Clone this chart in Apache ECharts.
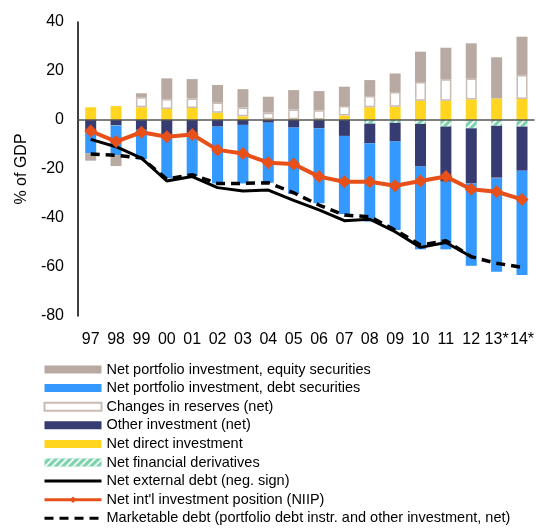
<!DOCTYPE html>
<html>
<head>
<meta charset="utf-8">
<script src="https://cdn.jsdelivr.net/npm/echarts@6/dist/echarts.min.js"></script>
<style>
  html, body { margin: 0; padding: 0; background: #fff; }
  #chart { width: 537px; height: 528px; }
</style>
</head>
<body>
<div id="chart"></div>
<script>
// 数据
const years = ['97', '98', '99', '00', '01', '02', '03', '04', '05', '06', '07', '08', '09', '10', '11', '12', '13*', '14*']

const equity      = [-3, -4.5, 1.6, 8.4, 7.9, 7.2, 7.5, 6.5, 7.9, 7.8, 7.9, 6.5, 7.6, 12.4, 12.9, 14.4, 16.8, 15.6]
const debtSec     = [-9.1, -12, -12, -17.7, -16.1, -23.2, -23.9, -24.5, -27.1, -30.6, -31.9, -32, -36.1, -33.8, -27.6, -33.6, -38.1, -42.6]
const reserves    = [0, 0, 4.1, 4.1, 3.9, 4.1, 3.6, 2.7, 4, 3.8, 3.9, 4.6, 6, 7.6, 8.7, 8.5, 0, 9.8]
const otherInv    = [-4.5, -2.3, -4, -6.1, -6.8, -2.7, -2, -1.1, -3.1, -3.4, -6.5, -8, -7.6, -17.4, -22.5, -22.5, -21.4, -18]
const directInv   = [5.2, 5.7, 5.2, 4.5, 4.9, 3, 1.5, 0.3, 0.3, 0.2, 1.8, 5.2, 5.4, 7.9, 7.9, 8.4, 8.8, 8.6]
const derivatives = [0, 0, 0, 0, 0, 0, 0, 0, 0, 0, 0, -1.5, -1.2, -1.6, -2.7, -3.4, -2.4, -2.7]

const extDebt     = [-7.9, -10.9, -15.6, -24.9, -23.1, -27.6, -29, -28.6, -32.8, -36.7, -41.1, -40.5, -45.6, -52, -50, -55.8, null, null]
const niip        = [-4.5, -8.8, -5, -6.8, -5.9, -12.2, -13.7, -17.4, -18, -23.1, -25.2, -25.2, -26.8, -24.9, -23.1, -28.3, -29.3, -32.4]
const marketDebt  = [-13.9, -14.4, -15.5, -24.1, -22.3, -25.9, -25.9, -25.6, -29.7, -34.7, -38.8, -39.5, -44.9, -51, -49.3, -55.8, -58.5, -60.1]

const names = {
  equity: 'Net portfolio investment, equity securities',
  debt: 'Net portfolio investment, debt securities',
  reserves: 'Changes in reserves (net)',
  other: 'Other investment (net)',
  direct: 'Net direct investment',
  deriv: 'Net financial derivatives',
  ext: 'Net external debt (neg. sign)',
  niip: "Net int'l investment position (NIIP)",
  market: 'Marketable debt (portfolio debt instr. and other investment, net)'
}

const chart = echarts.init(document.getElementById('chart'))

function barSeries(name, data, style) {
  return {
    name: name,
    type: 'bar',
    stack: 'bop',
    barWidth: 11,
    data: data,
    itemStyle: style
  }
}

const option = {
  animation: false,
  textStyle: { fontFamily: 'Liberation Sans, Arial, sans-serif', color: '#000' },
  grid: { left: 78, right: 2, top: 22, height: 294 },
  legend: {
    orient: 'vertical',
    left: 43,
    top: 362,
    width: 494,
    height: 200,
    padding: 0,
    itemWidth: 57,
    itemHeight: 8,
    itemGap: 3.6,
    lineStyle: { width: 3 },
    textStyle: { fontSize: 14.5, color: '#000', lineHeight: 14 },
    data: [
      { name: names.equity, icon: 'rect' },
      { name: names.debt, icon: 'rect' },
      { name: names.reserves, icon: 'rect' },
      { name: names.other, icon: 'rect' },
      { name: names.direct, icon: 'rect' },
      { name: names.deriv, icon: 'rect' },
      names.ext, names.niip, names.market
    ]
  },
  xAxis: {
    type: 'category',
    data: years,
    axisLine: { show: false },
    axisTick: { show: false },
    axisLabel: { fontSize: 16, color: '#000', margin: 16, interval: 0 }
  },
  yAxis: {
    type: 'value',
    min: -80,
    max: 40,
    interval: 20,
    name: '% of GDP',
    nameLocation: 'middle',
    nameGap: 43,
    nameTextStyle: { fontSize: 16, color: '#000' },
    axisLine: { show: true, lineStyle: { color: '#000', width: 1.5 } },
    axisTick: { show: false },
    splitLine: { show: false },
    axisLabel: { fontSize: 16, color: '#000', margin: 14 }
  },
  series: [
    barSeries(names.deriv, derivatives, {
      color: '#7fd1ae',
      decal: { symbol: 'rect', symbolSize: 1, color: 'rgba(255,255,255,0.85)', dashArrayX: [1, 0], dashArrayY: [2, 3], rotation: -Math.PI / 4 }
    }),
    barSeries(names.direct, directInv, { color: '#ffd520' }),
    barSeries(names.other, otherInv, { color: '#363b72' }),
    barSeries(names.reserves, reserves, { color: '#ffffff', borderColor: '#c8bcb5', borderWidth: 1.5 }),
    barSeries(names.debt, debtSec, { color: '#3399ff' }),
    Object.assign(barSeries(names.equity, equity, { color: '#b8aaa2' }), {
      markLine: {
        silent: true,
        symbol: 'none',
        label: { show: false },
        lineStyle: { color: '#555', width: 1.5, type: 'solid' },
        data: [{ yAxis: 0 }]
      }
    }),
    {
      name: names.ext,
      type: 'line',
      data: extDebt,
      symbol: 'none',
      lineStyle: { color: '#000', width: 3 },
      itemStyle: { color: 'rgba(0,0,0,0)' },
      z: 3
    },
    {
      name: names.market,
      type: 'line',
      data: marketDebt,
      symbol: 'none',
      lineStyle: { color: '#000', width: 3.5, type: [9, 6] },
      itemStyle: { color: 'rgba(0,0,0,0)' },
      z: 4
    },
    {
      name: names.niip,
      type: 'line',
      data: niip,
      symbol: 'diamond',
      symbolSize: 13,
      lineStyle: { color: '#e8501a', width: 4 },
      itemStyle: { color: '#e8501a' },
      z: 5
    }
  ]
}

chart.setOption(option)
</script>
</body>
</html>
